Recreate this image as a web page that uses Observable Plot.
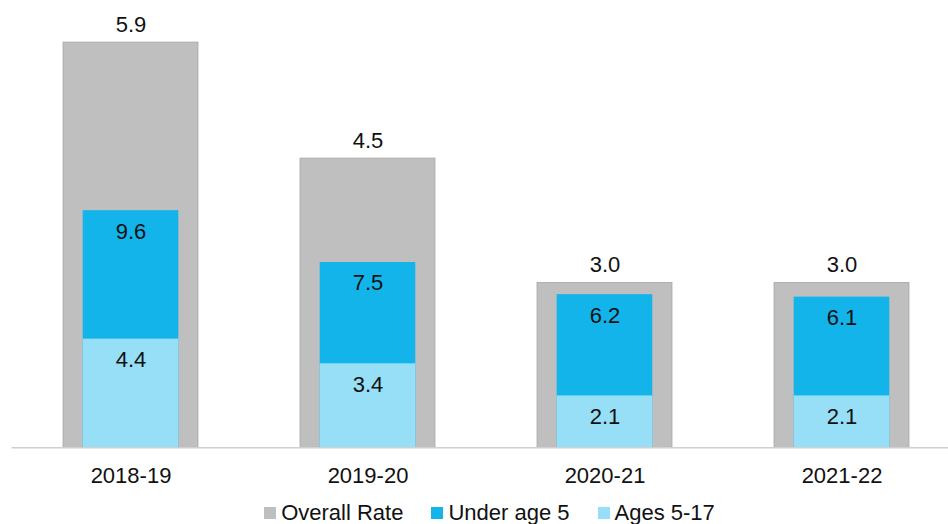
<!DOCTYPE html>
<html><head><meta charset="utf-8">
<script src="https://cdn.jsdelivr.net/npm/d3@7"></script>
<script src="https://cdn.jsdelivr.net/npm/@observablehq/plot@0.6"></script>
<style>
body{margin:0;background:#fff;font-family:"Liberation Sans",Arial,sans-serif;overflow:hidden}
#legend{display:flex;justify-content:center;align-items:center;height:26px;font-size:22px;color:#111;padding-left:31px;padding-top:3px;box-sizing:border-box;width:948px;line-height:22px}
.item{display:flex;align-items:center;margin:0 14px}
.sw{width:12px;height:12px;margin-right:5px}
</style></head><body><div id="chart"></div><div id="legend"></div>
<script>
const years = ["2018-19", "2019-20", "2020-21", "2021-22"];
const overall = [5.9, 4.5, 3.0, 3.0];
const under5 = [9.6, 7.5, 6.2, 6.1];
const ages517 = [4.4, 3.4, 2.1, 2.1];
const seriesNames = ["Overall Rate", "Under age 5", "Ages 5-17"];
const seriesColors = ["#bfbfbf", "#13b4ea", "#96dff6"];

const data = years.map((y, i) => ({year: y, overall: overall[i], under5: under5[i], ages: ages517[i]}));
// secondary axis (Overall Rate) mapped onto primary axis units
const sec = d3.scaleLinear().domain([1.01, 6.375]).range([0, 18]);
const fmt = v => v.toFixed(1);

const chart = Plot.plot({
  width: 948, height: 498,
  marginLeft: 11.6, marginRight: -12.3, marginTop: 2.7, marginBottom: 50.7,
  style: {fontFamily: "Liberation Sans, Arial, sans-serif", fontSize: "22px", color: "#111", background: "#fff"},
  x: {domain: years, paddingInner: 0.4304, paddingOuter: 0.2152, axis: null},
  y: {domain: [0, 18], axis: null},
  marks: [
    Plot.barY(data, {x: "year", y1: 0, y2: d => sec(d.overall), fill: seriesColors[0], stroke: "#a8a8a8", strokeWidth: 0.8}),
    Plot.barY(data, {x: "year", y1: 0, y2: "under5", fill: seriesColors[1], insetLeft: 19.7, insetRight: 19.7}),
    Plot.barY(data, {x: "year", y1: 0, y2: "ages", fill: seriesColors[2], insetLeft: 19.7, insetRight: 19.7}),
    Plot.ruleY([0], {stroke: "#d0d0d0", strokeWidth: 1.5}),
    Plot.text(data, {x: "year", y: d => sec(d.overall), text: d => fmt(d.overall), lineAnchor: "bottom", dy: -10.6, fontSize: 22, fill: "#111"}),
    Plot.text(data, {x: "year", y: "under5", text: d => fmt(d.under5), lineAnchor: "top", dy: 12.3, fontSize: 22, fill: "#111"}),
    Plot.text(data, {x: "year", y: "ages", text: d => fmt(d.ages), lineAnchor: "top", dy: 12.3, fontSize: 22, fill: "#111"}),
    Plot.axisX({tickSize: 0, tickPadding: 19.4, fontSize: 22, label: null, fill: "#111"})
  ]
});
document.getElementById("chart").appendChild(chart);

const legend = document.getElementById("legend");
seriesNames.forEach((n, i) => {
  const it = document.createElement("div");
  it.className = "item";
  const sw = document.createElement("span");
  sw.className = "sw";
  sw.style.background = seriesColors[i];
  const t = document.createElement("span");
  t.textContent = n;
  it.appendChild(sw); it.appendChild(t);
  legend.appendChild(it);
});
</script></body></html>
